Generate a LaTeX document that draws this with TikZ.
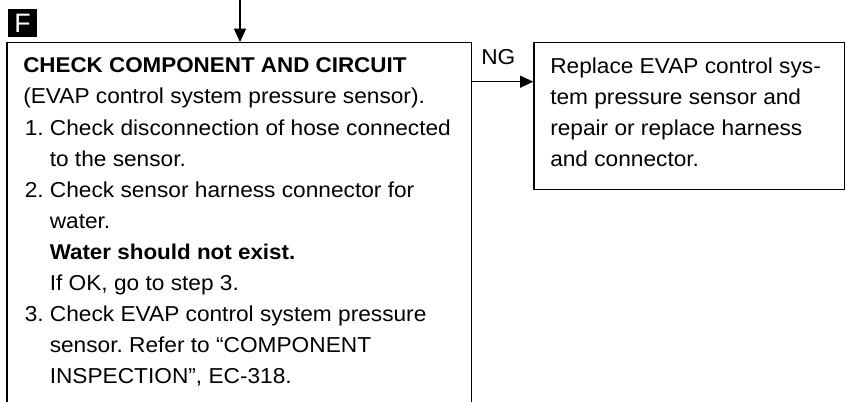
\documentclass[tikz,border=0pt]{standalone}
\usepackage{fontspec}
\setmainfont{Liberation Sans}[FakeStretch=1.05]
\newfontfamily\iconfont{Liberation Sans}
\usetikzlibrary{arrows.meta,fit}
\begin{document}
\frenchspacing
\begin{tikzpicture}[x=0.75pt,y=-0.75pt,
  boxst/.style={draw=black,line width=1pt,inner sep=0pt},
  txt/.style={anchor=base west,inner sep=0pt,font=\fontsize{16.2pt}{20pt}\selectfont},
  btxt/.style={txt,font=\fontsize{16pt}{20pt}\selectfont\bfseries},
  arr/.style={line width=1pt,-{Triangle[length=10pt,width=9pt]}}]
\useasboundingbox (0,0) rectangle (847,402);
\clip (0,0) rectangle (847,402);
% boxes
\node[boxst,fit={(7,42.7) (471.7,440)}] (lbox) {};
\node[boxst,fit={(534,42.7) (844.3,189.3)}] (rbox) {};
% icon
\node[fill=black,minimum width=21.7pt,minimum height=21pt,inner sep=0pt,text=white,
  font=\iconfont\fontsize{20pt}{20pt}\selectfont] (ficon) at (22.5,23) {F};
% connectors
\coordinate (top) at (240,-2);
\draw[arr] (top) -- (top |- lbox.north);
\coordinate (ngy) at (500,81.7);
\draw[arr] (ngy -| lbox.east) -- (ngy -| rbox.west);
\node[txt] (ng) at (481,65) {NG};
% left text
\node[btxt] (l1) at (23,73) {CHECK COMPONENT AND CIRCUIT};
\node[txt] (l2) at (23,104) {(EVAP control system pressure sensor).};
\node[txt] (l3) at (24.5,135.5) {1. Check disconnection of hose connected};
\node[txt] (l4) at (49.5,166.5) {to the sensor.};
\node[txt] (l5) at (24.5,197.5) {2. Check sensor harness connector for};
\node[txt] (l6) at (49.5,228.5) {water.};
\node[btxt] (l7) at (49.5,259.6) {Water should not exist.};
\node[txt] (l8) at (49.5,290.7) {If OK, go to step 3.};
\node[txt] (l9) at (24.5,321.8) {3. Check EVAP control system pressure};
\node[txt] (l10) at (49.5,353) {sensor. Refer to “COMPONENT};
\node[txt] (l11) at (49.5,384) {INSPECTION”, EC-318.};
% right text
\node[txt] (r1) at (550,74) {Replace EVAP control sys-};
\node[txt] (r2) at (550,105) {tem pressure sensor and};
\node[txt] (r3) at (550,136) {repair or replace harness};
\node[txt] (r4) at (550,167) {and connector.};
\end{tikzpicture}
\end{document}
